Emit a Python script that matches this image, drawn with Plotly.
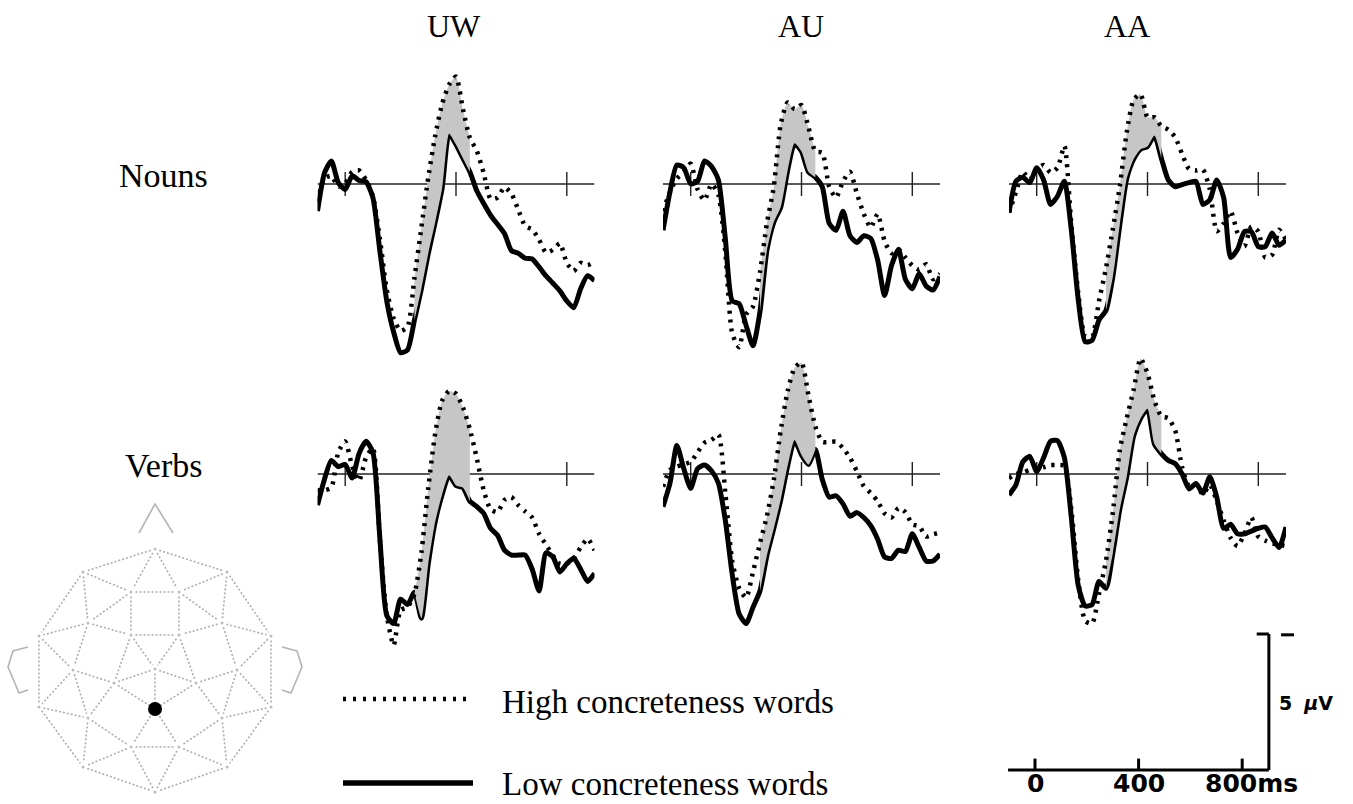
import math
import plotly.graph_objects as go

# ---------------- data ----------------
TIME_MS = list(range(-100, 901, 25))
COLUMN_LABELS = ["UW", "AU", "AA"]
ROW_LABELS = ["Nouns", "Verbs"]
TICK_MS = [0, 400, 800]
WINDOW_MS = [250, 450]
LEGEND_LABELS = ["High concreteness words", "Low concreteness words"]
SCALE_TICKS_MS = [0, 400, 800]
SCALE_TICK_LABELS = ["0", "400", "800ms"]
SCALE_UV = 5

UW_NOUN_HIGH = [-0.65, 0.2, 0.3, -0.1, 0.02, 0.45, 0.5, 0.15, -0.45, -2.0, -3.9, -4.95, -5.4, -5.25,
                -3.45, -1.6, 0.25, 1.78, 2.95, 3.65, 3.95, 2.75, 1.7, 1.22, 0.4, -0.55, -0.5, -0.12,
                -0.35, -0.95, -1.55, -1.67, -2.05, -2.52, -2.42, -2.18, -2.9, -3.2, -2.9, -2.98, -2.86]
UW_NOUN_LOW = [-1.0, 0.4, 0.85, 0.05, -0.2, 0.3, 0.13, 0.08, -0.5, -2.45, -4.3, -5.45, -6.2, -6.1,
               -5.0, -3.85, -2.55, -1.4, -0.15, 1.85, 1.45, 0.95, 0.45, -0.25, -0.72, -1.15, -1.48,
               -1.82, -2.45, -2.55, -2.73, -2.76, -3.05, -3.38, -3.65, -3.93, -4.3, -4.55, -3.85,
               -3.37, -3.55]
AU_NOUN_HIGH = [-1.0, -0.3, 0.2, 0.45, 0.75, -0.2, -0.6, 0.0, -0.4, -2.5, -5.5, -6.0, -4.8, -4.5,
                -3.25, -1.45, -0.1, 2.2, 3.0, 2.75, 2.9, 2.1, 1.2, 1.15, -0.1, -0.5, 0.1, 0.45, -0.35,
                -1.1, -1.6, -1.1, -2.1, -2.55, -2.4, -2.7, -3.0, -3.15, -2.95, -3.5, -3.3]
AU_NOUN_LOW = [-1.7, -0.3, 0.7, 0.6, 0.0, 0.1, 0.85, 0.65, 0.15, -2.0, -4.3, -4.4, -5.2, -5.95,
               -4.7, -2.45, -1.4, -0.85, 0.5, 1.5, 1.2, 0.45, 0.25, -0.1, -1.45, -1.7, -1.0, -1.9,
               -2.15, -1.9, -2.0, -2.8, -4.1, -3.0, -2.4, -3.5, -3.85, -3.3, -3.75, -3.9, -3.4]
AA_NOUN_HIGH = [-1.05, -0.3, 0.45, 0.16, 0.53, 0.7, 0.42, 0.6, 1.4, -1.5, -4.0, -5.6, -5.6, -4.3,
                -3.1, -1.65, -0.09, 1.9, 3.1, 3.3, 2.45, 2.45, 2.12, 2.0, 1.72, 1.1, 0.55, 0.5, 0.53,
                -0.2, -1.74, -1.45, -1.0, -1.8, -2.29, -1.56, -1.75, -2.7, -2.6, -1.68, -2.05]
AA_NOUN_LOW = [-1.05, 0.1, 0.25, 0.05, 0.6, 0.15, -0.75, -0.45, 0.1, -1.7, -4.25, -5.8, -5.75,
               -5.0, -4.65, -3.4, -1.5, 0.2, 0.92, 1.28, 1.38, 1.78, 0.95, 0.15, -0.1, -0.02, 0.05,
               0.1, -0.75, -0.58, 0.15, -0.5, -2.7, -2.4, -1.75, -1.75, -2.3, -2.3, -1.8, -2.25, -2.05]
UW_VERB_HIGH = [-0.6, -0.6, -0.5, 0.8, 1.2, 0.3, -0.25, 0.6, 0.95, -2.4, -5.2, -6.3, -5.0, -4.9,
                -4.4, -2.9, -0.5, 1.5, 2.7, 3.05, 2.95, 2.45, 1.65, 0.58, -0.6, -1.3, -1.4, -0.95,
                -0.85, -1.15, -1.38, -1.6, -2.2, -2.6, -3.0, -3.3, -3.3, -3.1, -2.7, -2.38, -2.8]
UW_VERB_LOW = [-1.14, -0.2, 0.5, 0.27, 0.35, -0.15, 0.75, 1.2, 0.8, -2.35, -5.2, -5.5, -4.6, -4.8,
               -4.35, -5.3, -3.3, -1.75, -0.75, -0.05, -0.42, -0.5, -1.0, -1.2, -1.45, -2.0, -2.25,
               -2.8, -2.98, -2.98, -2.98, -3.5, -4.3, -2.9, -3.05, -3.6, -3.3, -3.1, -3.5, -3.95, -3.65]
AU_VERB_HIGH = [-0.47, 0.15, 0.27, 0.35, 0.45, 0.8, 1.15, 1.25, 1.45, -0.7, -3.2, -4.2, -4.55,
                -3.6, -2.55, -1.55, -0.22, 1.6, 3.05, 3.9, 4.1, 2.9, 1.75, 1.18, 1.17, 1.19, 0.95,
                0.6, 0.1, -0.45, -0.7, -1.0, -1.45, -1.6, -1.25, -1.4, -1.85, -1.92, -2.3, -2.22, -2.15]
AU_VERB_LOW = [-1.2, -0.35, 1.05, 0.2, -0.53, 0.2, 0.33, 0.12, -0.34, -1.7, -3.7, -5.15, -5.5, -4.9,
               -4.3, -3.0, -2.0, -0.95, 0.3, 1.25, 0.7, 0.35, 0.9, -0.2, -0.85, -0.8, -1.1, -1.55,
               -1.42, -1.6, -1.9, -2.4, -3.05, -3.1, -2.8, -2.85, -2.2, -2.7, -3.2, -3.2, -2.95]
AA_VERB_HIGH = [-0.16, 0.0, 0.05, 0.15, 0.2, 0.25, 0.33, 0.33, 0.3, -1.3, -3.9, -5.4, -5.5, -4.4,
                -3.2, -1.4, 0.88, 2.05, 3.1, 4.25, 3.7, 2.7, 2.12, 2.05, 1.6, 0.25, -0.45, -0.4,
                -0.75, -0.4, -1.0, -1.7, -2.35, -2.65, -2.2, -1.6, -2.3, -2.45, -2.55, -2.6, -2.65]
AA_VERB_LOW = [-0.77, -0.4, 0.45, 0.65, 0.09, 0.6, 1.2, 1.23, 0.6, -1.6, -4.1, -4.85, -4.8, -3.95,
               -4.2, -2.9, -1.3, -0.1, 1.4, 2.05, 2.4, 1.1, 0.75, 0.5, 0.38, 0.0, -0.55, -0.35,
               -0.7, -0.1, -0.85, -2.0, -1.85, -2.2, -2.2, -2.1, -2.0, -1.95, -2.35, -2.7, -1.95]

PANELS = [
    (0, 0, UW_NOUN_HIGH, UW_NOUN_LOW),
    (0, 1, AU_NOUN_HIGH, AU_NOUN_LOW),
    (0, 2, AA_NOUN_HIGH, AA_NOUN_LOW),
    (1, 0, UW_VERB_HIGH, UW_VERB_LOW),
    (1, 1, AU_VERB_HIGH, AU_VERB_LOW),
    (1, 2, AA_VERB_HIGH, AA_VERB_LOW),
]

# electrode montage (head map)
HEAD_X = [0, -72, 72, -24, 24, -67, 67, -24, 24, -116, 116, 0, -82, 82, -41, 41, -116, 116,
          0, -67, 67, -24, 24, -72, 72, 0]
HEAD_Y = [121, 98, 98, 78, 78, 47, 47, 35, 35, 34, 34, 1, 0, 0, -13, -13, -37, -37,
          -39, -48, -48, -77, -77, -97, -97, -122]
HEAD_EDGES = [(0, 1), (0, 2), (0, 3), (0, 4), (1, 3), (2, 4), (1, 9), (2, 10), (1, 5), (2, 6),
              (3, 4), (3, 7), (4, 8), (7, 8), (3, 5), (4, 6), (5, 7), (6, 8), (5, 9), (6, 10),
              (9, 16), (10, 17), (9, 12), (10, 13), (5, 12), (6, 13), (7, 11), (8, 11), (7, 14),
              (8, 15), (12, 14), (14, 11), (11, 15), (15, 13), (12, 16), (13, 17), (12, 19),
              (13, 20), (11, 18), (14, 18), (15, 18), (14, 19), (15, 20), (16, 19), (17, 20),
              (19, 21), (20, 22), (18, 21), (18, 22), (21, 22), (19, 23), (20, 24), (16, 23),
              (17, 24), (21, 23), (22, 24), (21, 25), (22, 25), (23, 25), (24, 25)]
SELECTED_ELECTRODE = 18
NOSE_X = [-16, 0, 18]
NOSE_Y = [137, 166, 137]
EAR_X = [127, 142, 147, 136, 127]
EAR_Y = [23, 19, 3, -23, -20]

# ---------------- geometry / style ----------------
W, H = 1353, 804
COL_LEFT_PX = [317.5, 663, 1009]
PANEL_W_PX = 277
ROW_BASE_PX = [184, 474]
PX_PER_UV = 27.2
Y_RANGE = [-6.8, 4.4]
TICK_HALF_UV = 0.44
SERIF = "Liberation Serif"
SANS = "DejaVu Sans"
DOT_DASH = "3px,6px"


def fx(px):
    return px / W


def fy(py):
    return 1 - py / H


fig = go.Figure()
layout = dict(width=W, height=H, margin=dict(l=0, r=0, t=0, b=0),
              paper_bgcolor="white", plot_bgcolor="rgba(0,0,0,0)", showlegend=False)
annotations = []
shapes = []

for k, (r, c, high, low) in enumerate(PANELS, start=1):
    xa, ya = f"x{k}", f"y{k}"
    left = COL_LEFT_PX[c]
    base = ROW_BASE_PX[r]
    top = base - Y_RANGE[1] * PX_PER_UV
    bottom = base - Y_RANGE[0] * PX_PER_UV
    sfx = "" if k == 1 else str(k)
    layout["xaxis" + sfx] = dict(domain=[fx(left), fx(left + PANEL_W_PX)], range=[TIME_MS[0], TIME_MS[-1]],
                                 visible=False, anchor=ya, fixedrange=True)
    layout["yaxis" + sfx] = dict(domain=[fy(bottom), fy(top)], range=Y_RANGE,
                                 visible=False, anchor=xa, fixedrange=True)
    # baseline and time ticks
    ax_x = [TIME_MS[0], TIME_MS[-1], None]
    ax_y = [0, 0, None]
    for t in TICK_MS:
        ax_x += [t, t, None]
        ax_y += [-TICK_HALF_UV, TICK_HALF_UV, None]
    fig.add_trace(go.Scatter(x=ax_x, y=ax_y, mode="lines", xaxis=xa, yaxis=ya,
                             line=dict(color="#222222", width=1.4), hoverinfo="skip"))
    # low concreteness (solid)
    fig.add_trace(go.Scatter(x=TIME_MS, y=low, mode="lines", xaxis=xa, yaxis=ya,
                             line=dict(color="black", width=5, shape="spline", smoothing=0.6)))
    # shaded window between curves
    idx = [i for i, t in enumerate(TIME_MS) if WINDOW_MS[0] <= t <= WINDOW_MS[1]]
    wx = [TIME_MS[i] for i in idx]
    fig.add_trace(go.Scatter(x=wx, y=[low[i] for i in idx], mode="lines", xaxis=xa, yaxis=ya,
                             line=dict(width=0, shape="spline", smoothing=0.6), hoverinfo="skip"))
    fig.add_trace(go.Scatter(x=wx, y=[high[i] for i in idx], mode="lines", xaxis=xa, yaxis=ya,
                             fill="tonexty", fillcolor="#c6c6c6",
                             line=dict(width=0, shape="spline", smoothing=0.6), hoverinfo="skip"))
    # high concreteness (dotted)
    fig.add_trace(go.Scatter(x=TIME_MS, y=high, mode="lines", xaxis=xa, yaxis=ya,
                             line=dict(color="black", width=4.5, dash=DOT_DASH,
                                       shape="spline", smoothing=0.6)))

# ---------------- head map ----------------
layout["xaxis7"] = dict(domain=[0, fx(310)], range=[-155, 155], visible=False, anchor="y7")
layout["yaxis7"] = dict(domain=[fy(800), fy(500)], range=[-130, 170], visible=False, anchor="x7")
ex, ey = [], []
for a, b in HEAD_EDGES:
    x0, y0, x1, y1 = HEAD_X[a], HEAD_Y[a], HEAD_X[b], HEAD_Y[b]
    L = math.hypot(x1 - x0, y1 - y0)
    g = 4.5 / L
    ex += [x0 + (x1 - x0) * g, x1 - (x1 - x0) * g, None]
    ey += [y0 + (y1 - y0) * g, y1 - (y1 - y0) * g, None]
fig.add_trace(go.Scatter(x=ex, y=ey, mode="lines", xaxis="x7", yaxis="y7",
                         line=dict(color="#adadad", width=1.6, dash="2px,2px"), hoverinfo="skip"))
fig.add_trace(go.Scatter(x=HEAD_X, y=HEAD_Y, mode="markers", xaxis="x7", yaxis="y7",
                         marker=dict(color="#bdbdbd", size=3), hoverinfo="skip"))
outline_x = NOSE_X + [None] + [-v for v in EAR_X] + [None] + EAR_X
outline_y = NOSE_Y + [None] + EAR_Y + [None] + EAR_Y
fig.add_trace(go.Scatter(x=outline_x, y=outline_y, mode="lines", xaxis="x7", yaxis="y7",
                         line=dict(color="#b4b4b4", width=1.6), hoverinfo="skip"))
fig.add_trace(go.Scatter(x=[HEAD_X[SELECTED_ELECTRODE]], y=[HEAD_Y[SELECTED_ELECTRODE]],
                         mode="markers", xaxis="x7", yaxis="y7",
                         marker=dict(color="black", size=14), hoverinfo="skip"))

# ---------------- scale bar ----------------
SC_PX_PER_MS = 0.259
SC_ZERO_PX = 1035
SC_BASE_PX = 770
sx0 = (1000 - SC_ZERO_PX) / SC_PX_PER_MS
sx1 = (W - SC_ZERO_PX) / SC_PX_PER_MS
layout["xaxis8"] = dict(domain=[fx(1000), 1], range=[sx0, sx1], visible=False, anchor="y8")
layout["yaxis8"] = dict(domain=[fy(800), fy(620)],
                        range=[(SC_BASE_PX - 800) / PX_PER_UV, (SC_BASE_PX - 620) / PX_PER_UV],
                        visible=False, anchor="x8")
end_t = TIME_MS[-1] + 3
sc_x = [TIME_MS[0] - 4, end_t, None, end_t, end_t, None, end_t - 47, end_t, None]
sc_y = [0, 0, None, 0, SCALE_UV, None, SCALE_UV, SCALE_UV, None]
for t in SCALE_TICKS_MS:
    sc_x += [t, t, None]
    sc_y += [0, 0.42, None]
sc_x += [end_t + 47, end_t + 97]
sc_y += [SCALE_UV - 0.03, SCALE_UV - 0.03]
fig.add_trace(go.Scatter(x=sc_x, y=sc_y, mode="lines", xaxis="x8", yaxis="y8",
                         line=dict(color="black", width=3), hoverinfo="skip"))
for t, lab in zip(SCALE_TICKS_MS, SCALE_TICK_LABELS):
    if lab.endswith("ms"):
        annotations.append(dict(x=t - 150, y=-0.5, xref="x8", yref="y8", text=f"<b>{lab}</b>",
                                showarrow=False, xanchor="left", yanchor="middle",
                                font=dict(family=SANS, size=25, color="black")))
    else:
        annotations.append(dict(x=t, y=-0.5, xref="x8", yref="y8", text=f"<b>{lab}</b>",
                                showarrow=False, xanchor="center", yanchor="middle",
                                font=dict(family=SANS, size=25, color="black")))
annotations.append(dict(x=end_t + 32, y=2.45, xref="x8", yref="y8",
                        text=f"<b>{SCALE_UV}</b>  <b><i>µ</i>V</b>", showarrow=False,
                        xanchor="left", yanchor="middle",
                        font=dict(family=SANS, size=19, color="black")))

# ---------------- titles ----------------
for lab, cx in zip(COLUMN_LABELS, [454, 801, 1127]):
    annotations.append(dict(x=fx(cx), y=fy(25.5), xref="paper", yref="paper", text=lab,
                            showarrow=False, xanchor="center", yanchor="middle",
                            font=dict(family=SERIF, size=32, color="black")))
for lab, cy in zip(ROW_LABELS, [175.3, 465.3]):
    annotations.append(dict(x=fx(163.3), y=fy(cy), xref="paper", yref="paper", text=lab,
                            showarrow=False, xanchor="center", yanchor="middle",
                            font=dict(family=SERIF, size=34, color="black")))

# ---------------- legend ----------------
shapes.append(dict(type="line", xref="paper", yref="paper", x0=fx(343), x1=fx(468),
                   y0=fy(699), y1=fy(699), line=dict(color="black", width=4.5, dash="3px,7px")))
shapes.append(dict(type="line", xref="paper", yref="paper", x0=fx(343), x1=fx(473),
                   y0=fy(783), y1=fy(783), line=dict(color="black", width=5.5)))
for lab, cy in zip(LEGEND_LABELS, [702.3, 783.8]):
    annotations.append(dict(x=fx(500), y=fy(cy), xref="paper", yref="paper", text=lab,
                            showarrow=False, xanchor="left", yanchor="middle",
                            font=dict(family=SERIF, size=33, color="black")))

layout["annotations"] = annotations
layout["shapes"] = shapes
fig.update_layout(**layout)
fig.write_html("out.html")
